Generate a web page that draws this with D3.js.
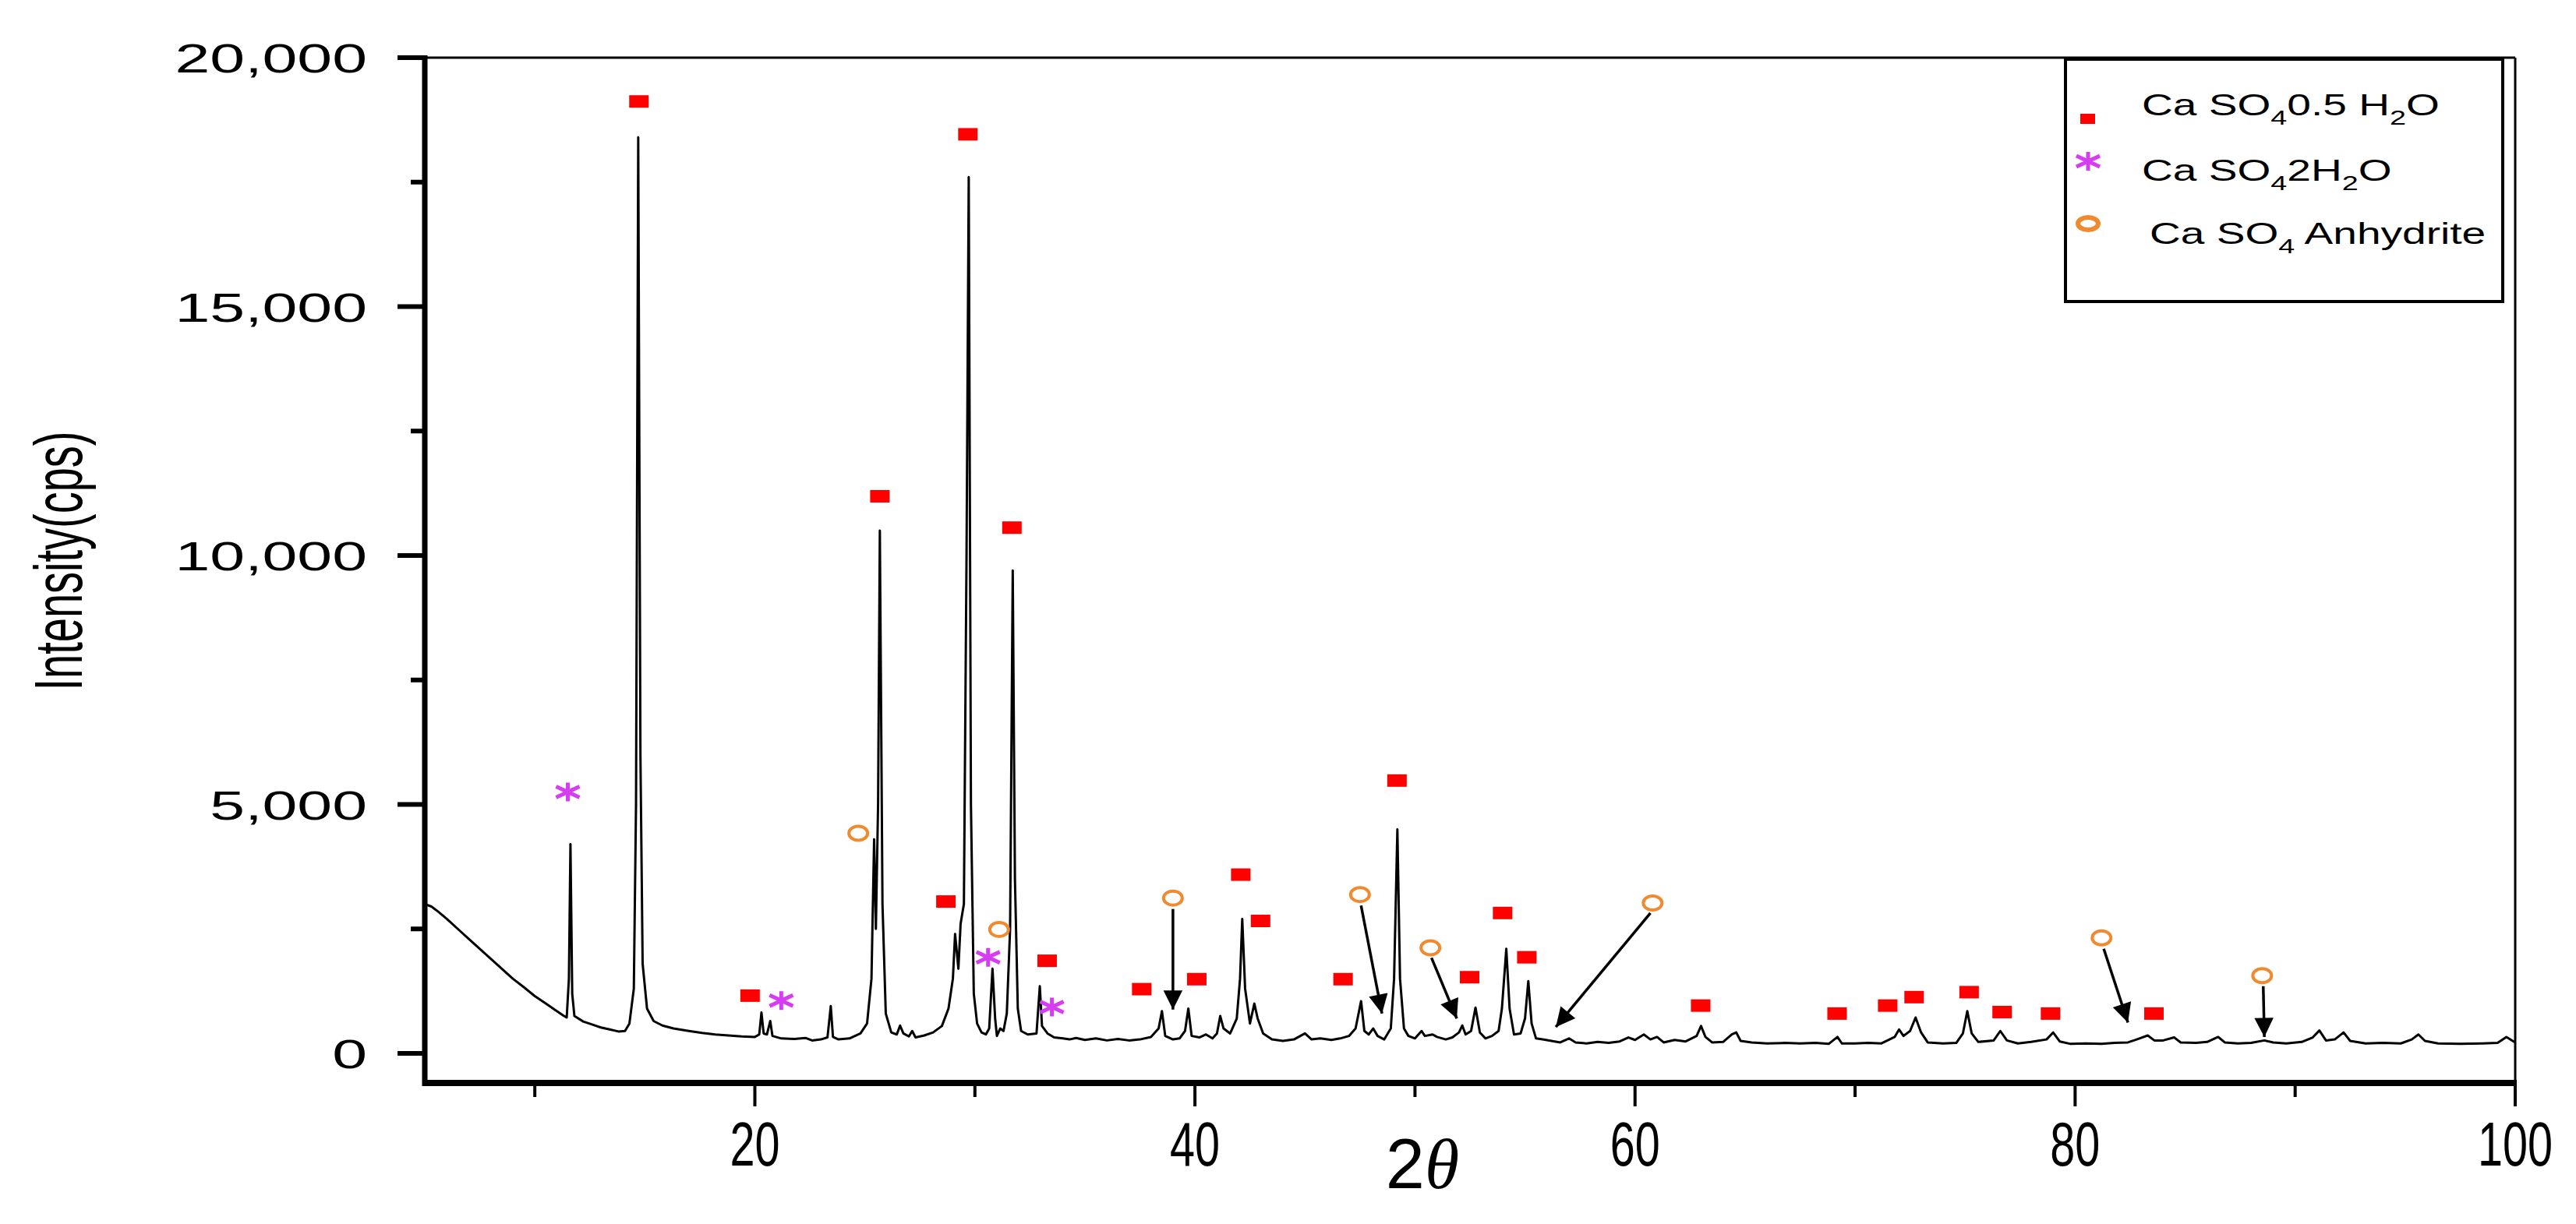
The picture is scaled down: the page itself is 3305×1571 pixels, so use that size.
<!DOCTYPE html>
<html>
<head>
<meta charset="utf-8">
<script src="https://cdn.jsdelivr.net/npm/d3@7"></script>
<style>
  body { margin: 0; background: #fff; }
  text { font-family: "Liberation Sans", Arial, sans-serif; }
</style>
</head>
<body>
<div id="canvas"></div>
<script>
// XRD profile: [2theta, counts]
var profile = [
  [5.0,3000],[5.3,2950],[5.6,2850],[6.0,2700],[6.5,2500],[7.0,2300],[7.5,2100],[8.0,1900],[8.5,1700],[9.0,1500],
  [9.5,1330],[10.0,1150],[10.5,1000],[11.0,850],[11.3,760],[11.45,720],[11.55,1500],[11.62,4200],[11.7,1200],[11.8,750],
  [12.2,640],[12.6,580],[13.0,520],[13.4,480],[13.8,440],[14.1,450],[14.3,600],[14.5,1300],[14.6,5000],[14.7,18400],
  [14.8,6000],[14.9,1800],[15.1,900],[15.4,650],[15.8,560],[16.3,500],[17,450],[17.6,410],[18.2,380],[18.8,360],
  [19.4,340],[20.0,330],[20.2,380],[20.3,820],[20.4,400],[20.55,380],[20.7,650],[20.8,350],[21.2,300],[21.8,290],
  [22.3,310],[22.6,260],[23.0,280],[23.3,320],[23.45,950],[23.55,330],[23.8,280],[24.3,300],[24.8,400],[25.1,600],
  [25.3,1500],[25.42,4300],[25.5,2500],[25.6,5000],[25.68,10500],[25.8,3000],[25.95,800],[26.2,420],[26.45,380],[26.6,560],
  [26.75,400],[27.0,340],[27.15,450],[27.3,320],[27.7,360],[28.1,420],[28.5,550],[28.8,900],[29.0,1500],[29.1,2400],
  [29.25,1700],[29.35,2600],[29.5,3000],[29.62,10000],[29.72,17600],[29.82,5000],[29.95,1200],[30.1,600],[30.3,420],[30.5,380],
  [30.65,500],[30.8,1700],[30.92,700],[31.0,350],[31.15,500],[31.3,450],[31.45,800],[31.6,2500],[31.72,9700],[31.82,3500],
  [31.95,900],[32.1,450],[32.4,380],[32.8,400],[32.95,1350],[33.05,550],[33.3,400],[33.6,320],[34,300],[34.3,280],
  [34.6,310],[35,270],[35.5,300],[36,260],[36.5,290],[37,260],[37.5,280],[38,330],[38.35,500],[38.5,850],
  [38.65,350],[39.0,280],[39.3,300],[39.55,450],[39.7,900],[39.85,350],[40.2,320],[40.5,380],[40.8,300],[41.0,400],
  [41.15,750],[41.3,500],[41.6,400],[41.9,700],[42.05,1500],[42.15,2700],[42.28,1300],[42.5,600],[42.7,1000],[42.85,700],
  [43.1,400],[43.5,280],[44,250],[44.5,280],[45.0,400],[45.3,280],[45.7,300],[46.2,270],[46.6,300],[47.0,350],
  [47.3,500],[47.55,1050],[47.7,450],[47.9,380],[48.1,500],[48.3,350],[48.6,280],[48.9,500],[49.05,1500],[49.2,4500],
  [49.32,1500],[49.5,500],[49.7,350],[50.0,300],[50.3,450],[50.45,350],[50.8,380],[51.0,330],[51.4,280],[51.7,320],
  [52.0,420],[52.15,560],[52.3,380],[52.55,450],[52.75,920],[52.95,420],[53.2,300],[53.5,350],[53.8,450],[53.95,900],
  [54.15,2100],[54.3,900],[54.5,380],[54.8,400],[55.0,700],[55.15,1450],[55.3,600],[55.5,300],[55.8,280],[56.2,250],
  [56.6,220],[57.0,300],[57.3,220],[57.8,200],[58.3,230],[58.8,210],[59.3,240],[59.7,320],[60.0,270],[60.4,380],
  [60.7,280],[61.0,330],[61.3,220],[61.8,270],[62.3,240],[62.8,350],[63.0,550],[63.2,330],[63.5,220],[64.0,230],
  [64.4,380],[64.6,420],[64.8,250],[65.3,220],[66,200],[66.8,210],[67.5,200],[68.2,210],[68.8,190],[69.2,330],
  [69.4,200],[70,200],[70.6,210],[71.2,200],[71.8,330],[72.0,480],[72.2,350],[72.5,450],[72.75,720],[73.0,420],
  [73.3,220],[74,200],[74.6,210],[74.9,400],[75.1,850],[75.3,400],[75.6,230],[76.3,260],[76.6,450],[76.9,260],
  [77.4,200],[78.0,230],[78.7,280],[79.0,420],[79.3,240],[79.8,190],[80.5,200],[81.2,190],[81.8,210],[82.4,220],
  [82.8,280],[83.3,360],[83.6,260],[84,260],[84.5,320],[84.8,220],[85.5,210],[86.0,230],[86.5,330],[86.8,220],
  [87.4,200],[88,210],[88.6,260],[89.0,220],[89.6,200],[90.3,230],[90.8,320],[91.1,460],[91.4,260],[91.8,280],
  [92.2,420],[92.5,250],[93.2,200],[94,210],[94.8,200],[95.3,280],[95.6,380],[95.9,250],[96.5,200],[97.5,190],
  [98.5,200],[99.2,210],[99.6,330],[100,220]
];

// phase markers [2theta, counts]
var hemihydrate = [[14.75,19120],[19.8,1160],[25.7,11190],[28.7,3050],[29.7,18460],[31.7,10560],[33.3,1860],[37.6,1290],
  [40.1,1490],[42.1,3590],[43.0,2660],[46.75,1490],[49.2,5480],[52.5,1530],[54.0,2820],[55.1,1930],[63.0,960],
  [69.2,800],[71.5,960],[72.7,1130],[75.2,1230],[76.7,830],[78.9,800],[83.6,800]];
var dihydrate = [[11.5,5250],[21.2,1060],[30.6,1930],[33.5,930]];
var anhydrite = [[24.7,4420],[31.1,2490],[39.0,3120],[47.5,3190],[50.7,2120],[60.8,3020],[81.2,2320],[88.5,1560]];
// arrows: [from x, from y, to x, to y]
var arrows = [[39.0,2900,39.0,880],[47.55,2970,48.5,800],[50.75,1920,51.9,700],[60.7,2820,56.4,530],
  [81.3,2100,82.4,620],[88.55,1350,88.6,330]];

var yTicks = [0, 5000, 10000, 15000, 20000];
var yMinor = [2500, 7500, 12500, 17500];
var xTicks = [20, 40, 60, 80, 100];
var xMinor = [10, 30, 50, 70, 90];

var W = 3305, H = 1571;
var pLeft = 545, pRight = 3227, pTop = 74, pBottom = 1390;
var stretch = 1.55;

var svg = d3.select('#canvas').append('svg').attr('width', W).attr('height', H);

var x = d3.scaleLinear().domain([5, 100]).range([pLeft, pRight]);
var y = d3.scaleLinear().domain([0, 20000]).range([1352, pTop]);

svg.append('defs').append('marker')
  .attr('id', 'head').attr('viewBox', '0 0 10 10').attr('refX', 10).attr('refY', 5)
  .attr('markerWidth', 14).attr('markerHeight', 7).attr('markerUnits', 'strokeWidth')
  .attr('orient', 'auto')
  .append('path').attr('d', 'M0,0L10,5L0,10z').attr('fill', '#000');

svg.append('clipPath').attr('id', 'clip').append('rect')
  .attr('x', pLeft).attr('y', pTop).attr('width', pRight - pLeft).attr('height', pBottom - pTop);

// frame
svg.append('line').attr('x1', pLeft).attr('x2', pRight).attr('y1', pTop).attr('y2', pTop).attr('stroke', '#000').attr('stroke-width', 3);
svg.append('line').attr('x1', pRight).attr('x2', pRight).attr('y1', pTop).attr('y2', pBottom).attr('stroke', '#000').attr('stroke-width', 3);
svg.append('line').attr('x1', pLeft).attr('x2', pLeft).attr('y1', pTop - 3).attr('y2', pBottom + 4).attr('stroke', '#000').attr('stroke-width', 7);
svg.append('line').attr('x1', pLeft - 3).attr('x2', pRight + 2).attr('y1', pBottom).attr('y2', pBottom).attr('stroke', '#000').attr('stroke-width', 8);

// y ticks
svg.selectAll('.ymaj').data(yTicks).enter().append('line')
  .attr('x1', pLeft - 35).attr('x2', pLeft).attr('y1', y).attr('y2', y).attr('stroke', '#000').attr('stroke-width', 6);
svg.selectAll('.ymin').data(yMinor).enter().append('line')
  .attr('x1', pLeft - 18).attr('x2', pLeft).attr('y1', y).attr('y2', y).attr('stroke', '#000').attr('stroke-width', 6);
svg.selectAll('.ylab').data(yTicks).enter().append('text')
  .attr('transform', function (d) { return 'translate(471,' + (y(d) + 19) + ') scale(' + stretch + ',1)'; })
  .attr('text-anchor', 'end').attr('font-size', 52)
  .text(d3.format(','));

// x ticks
svg.selectAll('.xmaj').data(xTicks).enter().append('line')
  .attr('x1', x).attr('x2', x).attr('y1', pBottom).attr('y2', pBottom + 30).attr('stroke', '#000').attr('stroke-width', 4);
svg.selectAll('.xmin').data(xMinor).enter().append('line')
  .attr('x1', x).attr('x2', x).attr('y1', pBottom).attr('y2', pBottom + 18).attr('stroke', '#000').attr('stroke-width', 4);
svg.selectAll('.xlab').data(xTicks).enter().append('text')
  .attr('transform', function (d) { return 'translate(' + x(d) + ',1496) scale(0.72,1)'; })
  .attr('text-anchor', 'middle').attr('font-size', 80)
  .text(function (d) { return d; });

// axis titles
var xt = svg.append('text').attr('transform', 'translate(1825,1525)')
  .attr('text-anchor', 'middle').attr('font-size', 90);
xt.append('tspan').text('2');
xt.append('tspan').attr('font-style', 'italic').attr('font-family', 'Liberation Serif, serif').text('θ');

svg.append('text').attr('transform', 'translate(105,720) scale(' + stretch + ',1) rotate(-90)')
  .attr('text-anchor', 'middle').attr('font-size', 56).text('Intensity(cps)');

// profile
var line = d3.line().x(function (d) { return x(d[0]); }).y(function (d) { return y(d[1]); });
svg.append('path').datum(profile).attr('clip-path', 'url(#clip)')
  .attr('d', line).attr('fill', 'none').attr('stroke', '#000').attr('stroke-width', 3).attr('stroke-linejoin', 'round');

// arrows
svg.selectAll('.arrow').data(arrows).enter().append('line')
  .attr('x1', function (d) { return x(d[0]); }).attr('y1', function (d) { return y(d[1]); })
  .attr('x2', function (d) { return x(d[2]); }).attr('y2', function (d) { return y(d[3]); })
  .attr('stroke', '#000').attr('stroke-width', 3.5).attr('marker-end', 'url(#head)');

// markers
var magenta = '#d63cf2', orange = '#f08a30';
function star(g) {
  g.append('path').attr('d', 'M0,-12V12M-15,-7L15,7M-15,7L15,-7')
    .attr('stroke', magenta).attr('stroke-width', 5).attr('fill', 'none');
}
svg.selectAll('.hemi').data(hemihydrate).enter().append('rect')
  .attr('x', function (d) { return x(d[0]) - 13; }).attr('y', function (d) { return y(d[1]) - 8; })
  .attr('width', 25).attr('height', 16).attr('fill', '#ff0000');
svg.selectAll('.di').data(dihydrate).enter().append('g')
  .attr('transform', function (d) { return 'translate(' + x(d[0]) + ',' + y(d[1]) + ')'; })
  .each(function () { star(d3.select(this)); });
svg.selectAll('.an').data(anhydrite).enter().append('ellipse')
  .attr('cx', function (d) { return x(d[0]); }).attr('cy', function (d) { return y(d[1]); })
  .attr('rx', 12).attr('ry', 9).attr('fill', 'none').attr('stroke', orange).attr('stroke-width', 4);

// legend
var lg = svg.append('g');
lg.append('rect').attr('x', 2650).attr('y', 76).attr('width', 561).attr('height', 311)
  .attr('fill', '#fff').attr('stroke', '#000').attr('stroke-width', 4);
lg.append('rect').attr('x', 2669).attr('y', 146).attr('width', 19).attr('height', 13).attr('fill', '#ff0000');
star(lg.append('g').attr('transform', 'translate(2679,207)'));
lg.append('ellipse').attr('cx', 2679).attr('cy', 287).attr('rx', 13).attr('ry', 8)
  .attr('fill', 'none').attr('stroke', orange).attr('stroke-width', 6);

var legendRows = [
  { x: 2748, y: 160, parts: [['Ca SO', 0], ['4', 1], ['0.5 H', 0], ['2', 1], ['O', 0]] },
  { x: 2748, y: 244, parts: [['Ca SO', 0], ['4', 1], ['2H', 0], ['2', 1], ['O', 0]] },
  { x: 2758, y: 325, parts: [['Ca SO', 0], ['4', 1], [' Anhydrite', 0]] }
];
legendRows.forEach(function (r) {
  var t = lg.append('text').attr('transform', 'translate(' + r.x + ',' + r.y + ') scale(1.45,1)')
    .attr('font-size', 38).attr('xml:space', 'preserve');
  r.parts.forEach(function (p) {
    t.append('tspan').attr('font-size', p[1] ? 26 : 38).attr('dy', p[1] ? 12 : (t.selectAll('tspan').size() > 0 ? -12 : 0))
      .text(p[0]);
  });
});
</script>
</body>
</html>
